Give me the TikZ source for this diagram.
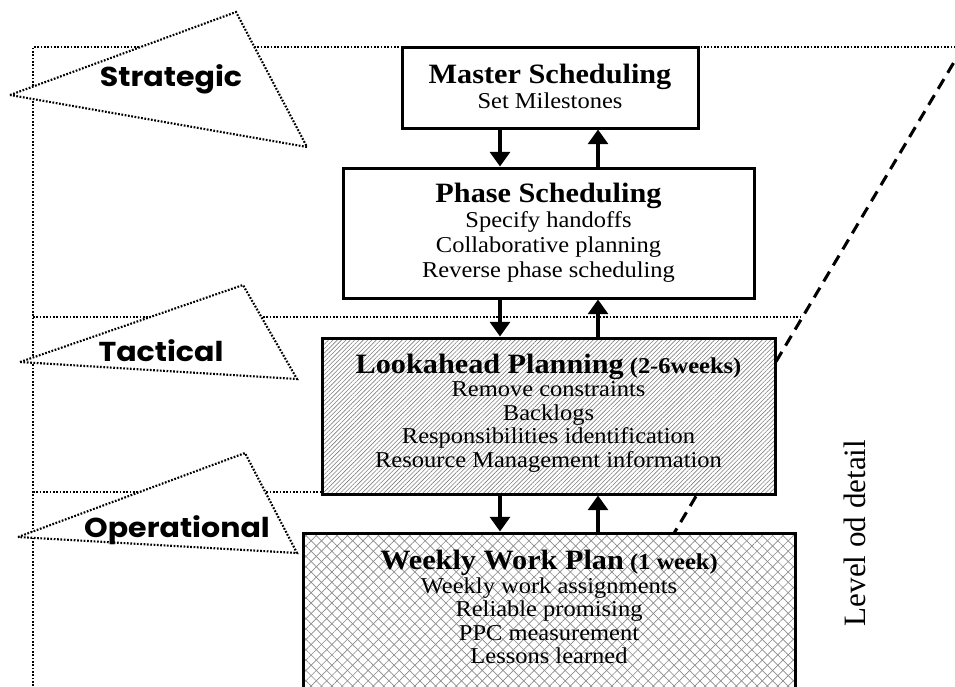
\documentclass[tikz,border=0pt]{standalone}
\usepackage{fontspec}
\setmainfont{Liberation Serif}
\newfontfamily\boxfont{Liberation Serif}[FakeStretch=1.08]
\newfontfamily\tierfont{Poppins}[FakeStretch=1.1]
\usetikzlibrary{patterns,patterns.meta,arrows.meta}

\newcommand\boxtitle{\fontsize{21pt}{23pt}\selectfont\bfseries}

\tikzset{
  frameline/.style={line width=1.6pt, dash pattern=on 1.3pt off 1.2pt},
  pennant/.style={frameline, fill=white},
  tierlabel/.style={font=\tierfont\bfseries\fontsize{20.5pt}{24pt}\selectfont, inner sep=0pt},
  planbox/.style={draw, line width=2.25pt, fill=white, inner sep=0pt},
  boxtext/.style={align=center, inner sep=0pt, font=\boxfont\fontsize{17pt}{18.7pt}\selectfont},
  tighttext/.style={boxtext, font=\boxfont\fontsize{17pt}{17.6pt}\selectfont},
  flow/.style={line width=2.3pt, -{Triangle[width=15pt,length=11pt]}},
  lodline/.style={line width=2.3pt, dash pattern=on 8.5pt off 5.5pt},
  hatched/.style={
    postaction={pattern={Lines[angle=45,distance=2.3pt,line width=0.45pt]}, pattern color=black!50},
    postaction={draw, line width=2.25pt}},
  crossed/.style={
    postaction={pattern={Lines[angle=45,distance=5.5pt,line width=0.5pt]}, pattern color=black!45},
    postaction={pattern={Lines[angle=-45,distance=5.5pt,line width=0.5pt]}, pattern color=black!45},
    postaction={draw, line width=2.25pt}}
}

\begin{document}
\begin{tikzpicture}[x=0.75pt,y=-0.75pt]
\clip (0,0) rectangle (955,686);

% level frame
\draw[frameline] (33,686) -- (33,47) -- (955,47);
\draw[frameline] (33,317) -- (802,317);
\draw[frameline] (33,492) -- (698,492);

% tier pennants
\filldraw[pennant] (10,95) -- (236,12) -- (307,147) -- cycle;
\filldraw[pennant] (20,362) -- (243,285) -- (297,379) -- cycle;
\filldraw[pennant] (18,537) -- (245,453) -- (297,553) -- cycle;
\node[tierlabel] (strategic) at (171,79) {Strategic};
\node[tierlabel] (tactical) at (161,351) {Tactical};
\node[tierlabel] (operational) at (177,530) {Operational};

% level-of-detail guide
\coordinate (lodtop) at (963,47);
\coordinate (lodbot) at (670,540);
\draw[lodline] (lodtop) -- (lodbot);

% planning levels
\node[planbox, minimum width=222pt, minimum height=60.75pt] (master) at (550,87.5) {};
\node[planbox, minimum width=308.25pt, minimum height=97.5pt] (phase) at (548.5,233) {};
\node[planbox, hatched, minimum width=339.75pt, minimum height=117pt] (lookahead) at (548.5,416) {};
\node[planbox, crossed, minimum width=369pt, minimum height=140.25pt] (weekly) at (549,626.5) {};

\node[boxtext] (mastertext) at (550,86)
  {{\boxtitle Master Scheduling}\\Set Milestones};
\node[boxtext] (phasetext) at (548.5,233)
  {{\boxtitle Phase Scheduling}\\Specify handoffs\\Collaborative planning\\Reverse phase scheduling};
\node[tighttext] (looktext) at (548.5,413)
  {{\boxtitle Lookahead Planning} \textbf{(2-6weeks)}\\Remove constraints\\Backlogs\\Responsibilities identification\\Resource Management information};
\node[tighttext] (weektext) at (549,607)
  {{\boxtitle Weekly Work Plan} \textbf{(1 week)}\\Weekly work assignments\\Reliable promising\\PPC measurement\\Lessons learned};

% flows between levels
\coordinate (downx) at (500,0);
\coordinate (upx) at (598,0);
\draw[flow] (master.south -| downx) -- (phase.north -| downx);
\draw[flow] (phase.north -| upx) -- (master.south -| upx);
\draw[flow] (phase.south -| downx) -- (lookahead.north -| downx);
\draw[flow] (lookahead.north -| upx) -- (phase.south -| upx);
\draw[flow] (lookahead.south -| downx) -- (weekly.north -| downx);
\draw[flow] (weekly.north -| upx) -- (lookahead.south -| upx);

% axis caption
\node[rotate=90, inner sep=0pt, font=\fontsize{23.3pt}{26pt}\selectfont] (lod) at (855,533) {Level od detail};
\end{tikzpicture}
\end{document}
